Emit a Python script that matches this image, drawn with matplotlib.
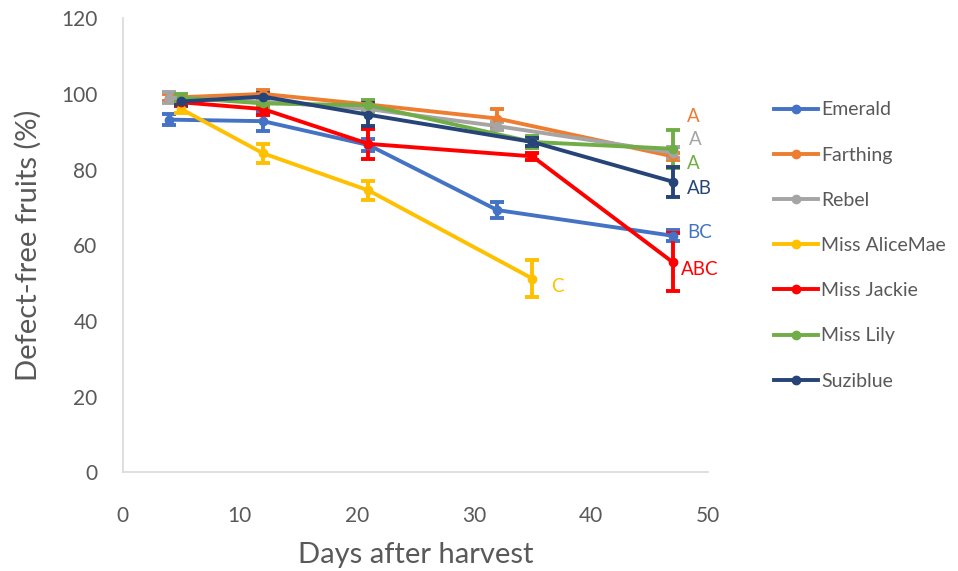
import numpy as np
import matplotlib.pyplot as plt

plt.rcParams['font.family'] = ['Lato', 'DejaVu Sans']

# days after harvest per cultivar, mean defect-free (%) and error
names = ['Emerald', 'Farthing', 'Rebel', 'Miss AliceMae', 'Miss Jackie', 'Miss Lily', 'Suziblue']
colors = ['#4472C4', '#ED7D31', '#A5A5A5', '#FFC000', '#FF0000', '#70AD47', '#264478']

days_emerald = [4, 12, 21, 32, 47]
emerald = [93.2, 92.8, 86.5, 69.3, 62.5]
err_emerald = [1.5, 2.5, 1.5, 2.0, 1.5]

days_farthing = [4, 12, 21, 32, 47]
farthing = [99.0, 100.0, 97.2, 93.5, 83.5]
err_farthing = [1.0, 1.0, 1.0, 2.5, 1.0]

days_rebel = [4, 12, 21, 32, 47]
rebel = [99.0, 98.0, 96.0, 91.5, 84.5]
err_rebel = [1.5, 1.0, 1.0, 1.0, 1.5]

days_alice = [5, 12, 21, 35]
alice = [96.0, 84.3, 74.5, 51.2]
err_alice = [1.0, 2.5, 2.5, 5.0]

days_jackie = [5, 12, 21, 35, 47]
jackie = [97.8, 96.0, 86.8, 83.5, 55.5]
err_jackie = [1.0, 1.5, 4.0, 1.0, 7.7]

days_lily = [5, 12, 21, 35, 47]
lily = [99.0, 97.5, 97.0, 87.3, 85.5]
err_lily = [1.0, 1.0, 1.5, 1.5, 5.0]

days_suzi = [5, 12, 21, 35, 47]
suzi = [98.0, 99.3, 94.5, 87.3, 76.8]
err_suzi = [1.0, 1.0, 3.0, 1.0, 4.0]

all_days = [days_emerald, days_farthing, days_rebel, days_alice, days_jackie, days_lily, days_suzi]
all_vals = [emerald, farthing, rebel, alice, jackie, lily, suzi]
all_err = [err_emerald, err_farthing, err_rebel, err_alice, err_jackie, err_lily, err_suzi]

# significance letters: (text, x, y, colour index)
letters = [('A', 48.2, 94.0, 1), ('A', 48.4, 88.0, 2), ('A', 48.2, 81.5, 5),
           ('AB', 48.2, 75.0, 6), ('BC', 48.2, 63.5, 0), ('ABC', 47.7, 53.5, 4),
           ('C', 36.6, 49.0, 3)]

fig = plt.figure(figsize=(9.58, 5.71), dpi=100)
ax = fig.add_axes([0.128, 0.173, 0.611, 0.795])

for i in range(len(names)):
    ax.errorbar(all_days[i], all_vals[i], yerr=all_err[i], color=colors[i], lw=2.8,
                marker='o', ms=6, elinewidth=2.8, capsize=5, capthick=2.8, label=names[i])

for t, x, y, ci in letters:
    ax.text(x, y, t, color=colors[ci], fontsize=13.5, ha='left', va='center')

ax.set_xlim(0, 50)
ax.set_ylim(0, 120)
ax.set_xticks(np.arange(0, 51, 10))
ax.set_yticks(np.arange(0, 121, 20))
ax.tick_params(axis='x', length=0, labelsize=15, labelcolor='#595959', pad=24)
ax.tick_params(axis='y', length=0, labelsize=15, labelcolor='#595959', pad=18)
for s in ['top', 'right']:
    ax.spines[s].set_visible(False)
for s in ['left', 'bottom']:
    ax.spines[s].set_color('#D9D9D9')
    ax.spines[s].set_linewidth(1.2)

ax.set_xlabel('Days after harvest', fontsize=21, color='#595959', labelpad=12)
ax.set_ylabel('Defect-free fruits (%)', fontsize=21, color='#595959', labelpad=14)

handles, labs = ax.get_legend_handles_labels()
handles = [h[0] for h in handles]
leg = fig.legend(handles, labs, loc='upper left', bbox_to_anchor=(0.79, 0.853),
                 frameon=False, fontsize=14, labelspacing=1.45, handlelength=2.27,
                 handletextpad=0.15, labelcolor='#595959')

fig.savefig('out.png', dpi=100)
